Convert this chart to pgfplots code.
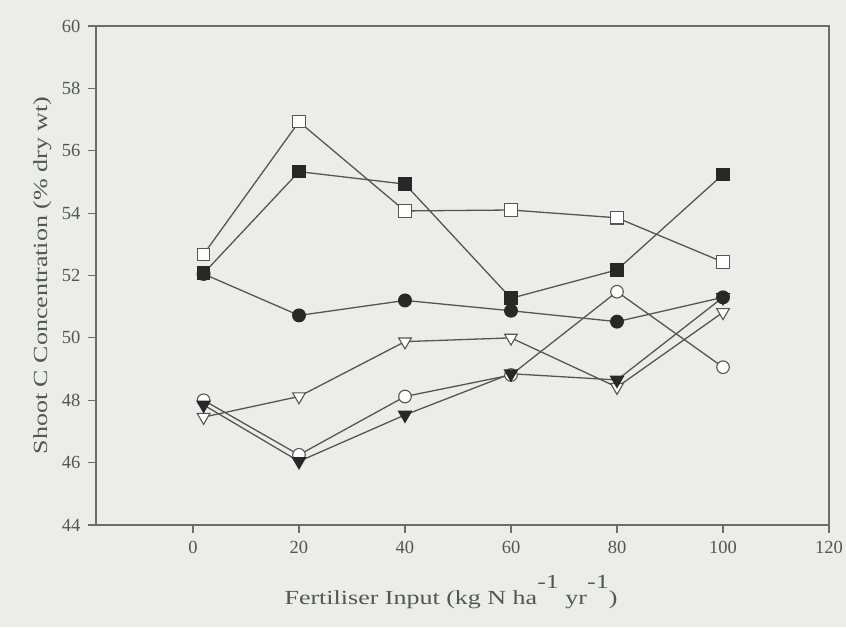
\documentclass[border=0pt]{standalone}
\usepackage{fontspec}
\setmainfont{Liberation Serif}
\newfontfamily\widefont{Liberation Serif}[FakeStretch=1.3]
\usepackage{pgfplots}
\pgfplotsset{compat=1.18}

\definecolor{bgpaper}{RGB}{236,236,232}
\definecolor{axisgray}{RGB}{105,110,102}
\definecolor{inkgray}{RGB}{80,88,80}
\definecolor{linegray}{RGB}{85,85,85}
\definecolor{markfill}{RGB}{40,40,40}

\begin{document}
\begin{tikzpicture}
\path[use as bounding box, fill=bgpaper] (0pt,0pt) rectangle (846pt,627pt);
\begin{axis}[
  at={(96pt,102pt)}, anchor=south west,
  scale only axis, width=733pt, height=499pt,
  xmin=-18.3, xmax=120, ymin=44, ymax=60,
  xtick={0,20,...,120}, ytick={44,46,...,60},
  tick align=outside, xtick pos=bottom, ytick pos=left,
  major tick length=8pt,
  axis line style={axisgray, line width=1.3pt},
  tick style={axisgray, line width=1.1pt},
  /pgf/number format/assume math mode=true,
  tick label style={font=\fontsize{18.5}{18.5}\selectfont, text=inkgray},
  yticklabel style={xshift=-4pt},
  xticklabel style={yshift=-5pt},
  label style={font=\widefont\fontsize{20}{24}\selectfont, text=inkgray},
  xlabel={Fertiliser Input (kg N ha\raisebox{16pt}{-1} yr\raisebox{16pt}{-1})},
  ylabel={Shoot C Concentration (\% dry wt)},
  xlabel style={at={(axis description cs:0.5,-0.1603)}, anchor=base, xshift=-11.5pt},
  ylabel style={at={(axis description cs:-0.0668,0.5)}, anchor=base},
  every axis plot/.append style={line width=1.3pt, color=linegray},
]
% open squares
\addplot[mark=square*, mark size=6.2pt, mark options={fill=white, draw=linegray, line width=1.1pt}]
  coordinates {(2,52.68) (20,56.93) (40,54.07) (60,54.10) (80,53.85) (100,52.43)};
% filled circles
\addplot[mark=*, mark size=6.3pt, mark options={fill=markfill, draw=markfill}]
  coordinates {(2,52.05) (20,50.72) (40,51.20) (60,50.87) (80,50.52) (100,51.30)};
% filled squares
\addplot[mark=square*, mark size=6.2pt, mark options={fill=markfill, draw=markfill}]
  coordinates {(2,52.07) (20,55.33) (40,54.93) (60,51.27) (80,52.18) (100,55.24)};
% open triangles (pointing down)
\addplot[mark=triangle*, mark size=7.3pt, mark options={rotate=180, fill=white, draw=linegray, line width=1.1pt}]
  coordinates {(2,47.46) (20,48.12) (40,49.88) (60,50.00) (80,48.42) (100,50.82)};
% open circles
\addplot[mark=*, mark size=6.3pt, mark options={fill=white, draw=linegray, line width=1.1pt}]
  coordinates {(2,48.00) (20,46.25) (40,48.12) (60,48.81) (80,51.48) (100,49.06)};
% filled triangles (pointing down)
\addplot[mark=triangle*, mark size=7.3pt, mark options={rotate=180, fill=markfill, draw=markfill}]
  coordinates {(2,47.85) (20,46.04) (40,47.53) (60,48.85) (80,48.65) (100,51.30)};
\end{axis}
\end{tikzpicture}
\end{document}
